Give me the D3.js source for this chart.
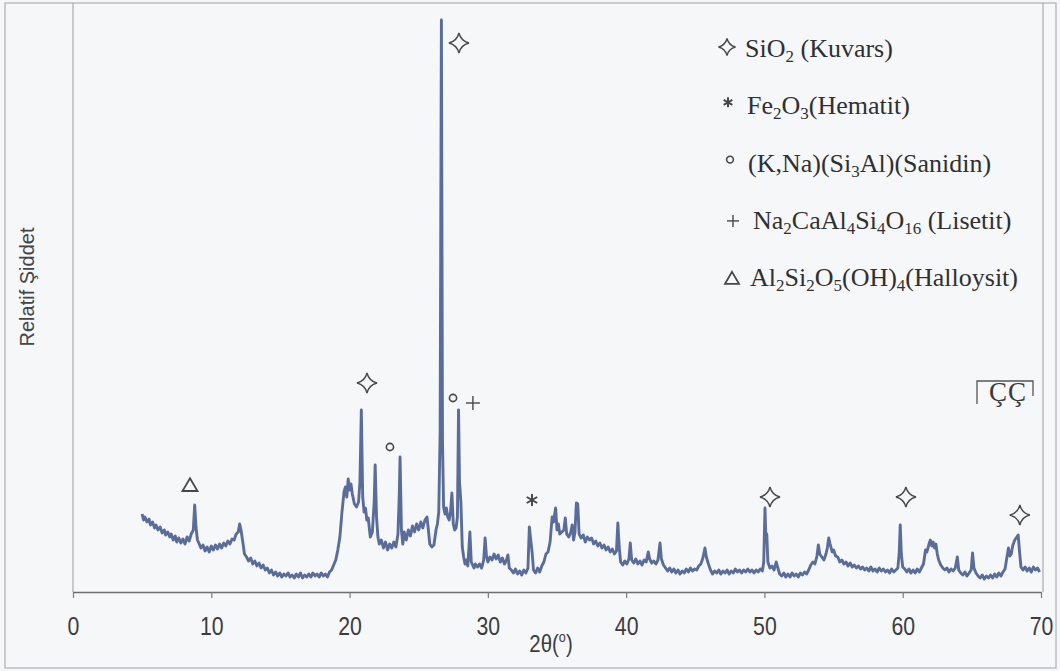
<!DOCTYPE html>
<html>
<head>
<meta charset="utf-8">
<script src="https://cdn.jsdelivr.net/npm/d3@7"></script>
<style>
  html, body { margin: 0; padding: 0; background: #f5f7f9; }
  svg { display: block; }
</style>
</head>
<body>
<svg id="chart" width="1060" height="671"></svg>
<script>
// X-ray diffraction scan: [2θ (degrees), relative intensity]
const pattern = [
  [5.0,78],[5.1,72],[5.2,75],[5.35,70],[5.5,73],[5.6,67],[5.75,70],[5.9,64],[6.0,67],[6.15,62],[6.3,65],[6.45,59],[6.6,62],[6.7,57],[6.85,60],[7.0,55],[7.1,58],[7.25,52],[7.4,56],[7.5,50],[7.65,54],[7.8,49],[7.95,53],[8.1,48],[8.25,55],[8.4,51],[8.55,58],[8.7,62],[8.8,87],[8.9,64],[9.0,52],[9.1,49],
  [9.25,44],[9.4,47],[9.55,41],[9.7,45],[9.85,40],[10.0,46],[10.15,42],[10.3,47],[10.45,43],[10.6,48],[10.75,44],[10.9,49],[11.05,46],[11.2,51],[11.35,48],[11.5,53],[11.65,52],[11.8,58],[11.95,60],[12.05,68],[12.15,62],[12.3,48],[12.4,38],[12.55,35],[12.7,31],[12.85,34],[13.0,28],[13.15,31],[13.3,26],[13.45,29],[13.6,24],[13.75,27],[13.9,22],[14.05,24],[14.2,19],[14.35,22],[14.5,17],[14.65,20],[14.8,16],[14.95,19],[15.1,15],[15.25,18],[15.4,16],[15.55,19],[15.7,15],[15.85,17],[16.0,14],[16.15,18],[16.3,15],[16.45,19],[16.6,14],[16.75,17],[16.9,15],[17.05,18],[17.2,15],[17.35,19],[17.5,16],[17.65,18],[17.8,15],[17.95,19],[18.1,16],[18.25,18],[18.4,15],[18.55,20],[18.7,22],[18.85,27],[19.0,32],[19.15,42],[19.3,55],[19.45,80],[19.6,100],[19.7,105],[19.8,95],[19.9,113],[20.0,102],[20.1,108],[20.2,98],[20.35,88],[20.5,85],[20.65,90],[20.75,110],[20.85,182],[20.95,95],[21.05,80],[21.15,84],[21.25,72],[21.35,74],[21.5,55],[21.65,60],[21.78,90],[21.85,127],[21.95,75],[22.05,55],[22.15,48],[22.3,52],[22.45,44],[22.6,50],[22.75,42],[22.9,48],[23.05,44],[23.2,50],[23.35,45],[23.5,58],[23.6,100],[23.65,135],[23.75,62],[23.85,48],[23.95,60],[24.1,52],[24.25,62],[24.4,56],[24.55,66],[24.7,60],[24.85,68],[25.0,62],[25.15,70],[25.3,64],[25.45,72],[25.6,75],[25.7,62],[25.8,48],[25.95,45],[26.1,47],[26.25,62],[26.35,68],[26.45,80],[26.55,160],[26.64,572],[26.72,150],[26.8,85],[26.9,78],[27.0,84],[27.1,75],[27.2,72],[27.3,80],[27.4,99],[27.5,68],[27.6,62],[27.7,64],[27.8,75],[27.88,182],[27.95,110],[28.05,90],[28.15,45],[28.25,35],[28.35,28],[28.45,32],[28.55,26],[28.7,60],[28.8,30],[28.9,27],[29.0,24],[29.1,28],[29.25,25],[29.4,28],[29.55,24],[29.7,32],[29.8,54],[29.9,36],[30.0,30],[30.15,35],[30.3,32],[30.45,38],[30.6,33],[30.75,37],[30.9,30],[31.05,34],[31.2,28],[31.35,32],[31.45,37],[31.55,24],[31.7,22],[31.85,19],[32.0,23],[32.15,18],[32.3,21],[32.45,17],[32.6,22],[32.75,19],[32.9,24],[33.0,65],[33.1,52],[33.2,40],[33.3,22],[33.45,19],[33.6,24],[33.75,20],[33.9,26],[34.05,30],[34.2,38],[34.35,40],[34.5,50],[34.65,75],[34.75,70],[34.9,84],[35.0,62],[35.1,68],[35.2,58],[35.35,60],[35.5,62],[35.6,74],[35.7,58],[35.85,55],[36.0,60],[36.1,67],[36.2,52],[36.3,60],[36.4,89],[36.5,88],[36.6,58],[36.75,54],[36.9,57],[37.05,50],[37.2,55],[37.35,52],[37.5,54],[37.65,48],[37.8,51],[37.95,46],[38.1,49],[38.25,44],[38.4,47],[38.55,42],[38.7,45],[38.85,40],[39.0,43],[39.15,38],[39.3,41],[39.4,69],[39.5,45],[39.6,30],[39.75,27],[39.9,31],[40.05,28],[40.2,33],[40.3,49],[40.4,32],[40.55,29],[40.7,33],[40.85,28],[41.0,31],[41.15,27],[41.3,32],[41.45,30],[41.6,40],[41.7,33],[41.85,29],[42.0,31],[42.15,28],[42.3,32],[42.45,49],[42.55,33],[42.7,27],[42.85,24],[43.0,21],[43.15,24],[43.3,20],[43.45,23],[43.6,19],[43.75,22],[43.9,18],[44.05,21],[44.2,19],[44.35,23],[44.5,20],[44.65,24],[44.8,21],[44.95,23],[45.1,22],[45.25,26],[45.4,28],[45.55,34],[45.7,44],[45.8,35],[45.95,28],[46.1,22],[46.25,18],[46.4,21],[46.55,19],[46.7,22],[46.85,18],[47.0,21],[47.15,19],[47.3,22],[47.45,18],[47.6,21],[47.75,19],[47.9,23],[48.05,20],[48.2,22],[48.35,19],[48.5,22],[48.65,20],[48.8,23],[48.95,20],[49.1,22],[49.25,19],[49.4,22],[49.55,20],[49.7,23],[49.85,21],[49.95,30],[50.04,84],[50.1,55],[50.17,58],[50.25,30],[50.4,24],[50.55,26],[50.7,22],[50.85,30],[50.95,25],[51.1,18],[51.25,16],[51.4,19],[51.55,15],[51.7,18],[51.85,15],[52.0,19],[52.15,16],[52.3,18],[52.45,15],[52.6,19],[52.75,17],[52.9,20],[53.05,18],[53.2,22],[53.35,27],[53.5,30],[53.65,28],[53.8,36],[53.9,47],[54.0,38],[54.15,35],[54.3,32],[54.45,38],[54.55,44],[54.65,54],[54.75,48],[54.9,40],[55.0,42],[55.15,36],[55.3,35],[55.45,30],[55.6,32],[55.75,28],[55.9,30],[56.05,26],[56.2,29],[56.35,25],[56.5,27],[56.65,24],[56.8,26],[56.95,23],[57.1,25],[57.25,22],[57.4,24],[57.55,21],[57.7,25],[57.85,21],[58.0,23],[58.15,20],[58.3,24],[58.45,21],[58.6,23],[58.75,20],[58.9,22],[59.05,19],[59.2,23],[59.35,20],[59.5,22],[59.65,24],[59.75,40],[59.82,67],[59.9,38],[60.0,25],[60.15,23],[60.3,20],[60.45,23],[60.6,19],[60.75,22],[60.9,19],[61.05,23],[61.2,20],[61.35,24],[61.5,28],[61.65,42],[61.75,40],[61.9,48],[62.0,52],[62.1,46],[62.2,50],[62.3,44],[62.4,48],[62.5,38],[62.6,32],[62.75,27],[62.9,24],[63.05,22],[63.2,24],[63.35,20],[63.5,23],[63.65,21],[63.8,24],[63.95,35],[64.05,22],[64.2,19],[64.35,17],[64.5,20],[64.65,16],[64.8,19],[64.95,22],[65.05,39],[65.15,24],[65.3,19],[65.45,16],[65.6,14],[65.75,17],[65.9,13],[66.05,16],[66.2,14],[66.35,17],[66.5,14],[66.65,18],[66.8,15],[66.95,19],[67.1,16],[67.25,20],[67.4,23],[67.55,36],[67.65,44],[67.75,36],[67.85,38],[67.95,46],[68.1,52],[68.25,55],[68.35,57],[68.45,40],[68.55,25],[68.7,22],[68.85,25],[69.0,21],[69.15,24],[69.3,20],[69.45,25],[69.6,22],[69.75,24],[69.9,20]
];

// Axis ticks
const xTicks = [0, 10, 20, 30, 40, 50, 60, 70];

// Phase identification marks placed above the peaks: [phase, 2θ, level]
const peakMarks = [
  ["halloysite", 8.46, 107],
  ["quartz", 21.26, 209],
  ["sanidine", 22.92, 145],
  ["quartz", 27.91, 549],
  ["sanidine", 27.48, 194],
  ["lisetite", 28.92, 189],
  ["hematite", 33.19, 92],
  ["quartz", 50.4, 95],
  ["quartz", 60.23, 95],
  ["quartz", 68.47, 77]
];

// Legend: phase symbol and formula pieces (second element 1 = subscript)
const legendPhases = ["quartz", "hematite", "sanidine", "lisetite", "halloysite"];
const legendLabels = [
  [["SiO"], ["2", 1], [" (Kuvars)"]],
  [["Fe"], ["2", 1], ["O"], ["3", 1], ["(Hematit)"]],
  [["(K,Na)(Si"], ["3", 1], ["Al)(Sanidin)"]],
  [["Na"], ["2", 1], ["CaAl"], ["4", 1], ["Si"], ["4", 1], ["O"], ["16", 1], [" (Lisetit)"]],
  [["Al"], ["2", 1], ["Si"], ["2", 1], ["O"], ["5", 1], ["(OH)"], ["4", 1], ["(Halloysit)"]]
];

const sampleCode = "ÇÇ";
const yTitle = "Relatif Şiddet";

const svg = d3.select("#chart");
const W = 1060, H = 671;
const plot = { left: 73, right: 1043, top: 3, bottom: 592 };

svg.append("rect").attr("width", W).attr("height", H).attr("fill", "#f5f7f9");

// outer frame
svg.append("rect")
  .attr("x", 5).attr("y", 3).attr("width", 1051).attr("height", 665)
  .attr("fill", "none").attr("stroke", "#b4b6b8").attr("stroke-width", 1.3);

const x = d3.scaleLinear().domain([0, 70]).range([plot.left, 1041]);
const y = d3.scaleLinear().domain([0, 588]).range([plot.bottom, 4]);

// plot area side borders
svg.append("line").attr("x1", plot.left).attr("x2", plot.left)
  .attr("y1", plot.top).attr("y2", plot.bottom)
  .attr("stroke", "#a8aaac").attr("stroke-width", 1.2);
svg.append("line").attr("x1", plot.right).attr("x2", plot.right)
  .attr("y1", plot.top).attr("y2", plot.bottom)
  .attr("stroke", "#a8aaac").attr("stroke-width", 1.2);

// x axis
const xAxis = d3.axisBottom(x).tickValues(xTicks).tickSize(6).tickSizeOuter(0);
const gx = svg.append("g").attr("transform", `translate(0,${plot.bottom})`).call(xAxis);
gx.select(".domain").attr("stroke", "#6c6e70").attr("stroke-width", 1.6);
gx.selectAll(".tick line").attr("stroke", "#7a7c7e").attr("stroke-width", 1.2);
gx.selectAll(".tick text")
  .attr("y", 43).attr("dy", 0)
  .attr("transform", "scale(0.85,1)")
  .attr("fill", "#3c3c3c")
  .style("font-family", "'Liberation Sans', Arial, sans-serif")
  .style("font-size", "25px");

// x axis title: 2θ(°)
const xt = svg.append("text")
  .attr("transform", "translate(551,652) scale(0.85,1)")
  .attr("text-anchor", "middle")
  .attr("fill", "#3c3c3c")
  .style("font-family", "'Liberation Sans', Arial, sans-serif")
  .style("font-size", "24px");
xt.append("tspan").text("2θ(");
xt.append("tspan").text("o").style("font-size", "15px").attr("dy", -10);
xt.append("tspan").text(")").attr("dy", 10);

// y axis title
svg.append("text")
  .attr("transform", "translate(34,287) rotate(-90)")
  .attr("text-anchor", "middle")
  .attr("fill", "#444")
  .style("font-family", "'Liberation Sans', Arial, sans-serif")
  .style("font-size", "20px")
  .text(yTitle);

// diffraction trace
const line = d3.line().x(d => x(d[0])).y(d => y(d[1]));
svg.append("path")
  .datum(pattern)
  .attr("d", line)
  .attr("fill", "none")
  .attr("stroke", "#5a6c9a")
  .attr("stroke-width", 2.9)
  .attr("stroke-linejoin", "round");

// phase symbols
const markColor = "#474747";
function drawSymbol(g, kind, cx, cy, s) {
  const grp = g.append("g").attr("transform", `translate(${cx},${cy})`)
    .attr("fill", "none").attr("stroke", markColor);
  if (kind === "quartz") {
    const r = s, c = s * 0.2;
    grp.append("path")
      .attr("d", `M0,${-r} Q${c},${-c} ${r},0 Q${c},${c} 0,${r} Q${-c},${c} ${-r},0 Q${-c},${-c} 0,${-r}Z`)
      .attr("stroke-width", 1.4).attr("stroke-linejoin", "miter");
  } else if (kind === "hematite") {
    [90, 30, 150].forEach(a => {
      const rad = a * Math.PI / 180;
      grp.append("line")
        .attr("x1", -s * Math.cos(rad)).attr("y1", -s * Math.sin(rad))
        .attr("x2", s * Math.cos(rad)).attr("y2", s * Math.sin(rad))
        .attr("stroke-width", 2);
    });
  } else if (kind === "sanidine") {
    grp.append("circle").attr("r", s).attr("stroke-width", 1.6);
  } else if (kind === "lisetite") {
    grp.append("line").attr("x1", -s).attr("x2", s).attr("stroke-width", 1.4);
    grp.append("line").attr("y1", -s).attr("y2", s).attr("stroke-width", 1.4);
  } else if (kind === "halloysite") {
    grp.append("path")
      .attr("d", `M0,${-s * 0.9} L${s},${s * 0.8} L${-s},${s * 0.8}Z`)
      .attr("stroke-width", 1.8).attr("stroke-linejoin", "miter");
  }
}
const markSize = { quartz: 10, hematite: 6, sanidine: 3.6, lisetite: 7, halloysite: 7.5 };

const marks = svg.append("g");
peakMarks.forEach(([kind, t, lvl]) => drawSymbol(marks, kind, x(t), y(lvl), markSize[kind]));

// legend
const legendSize = { quartz: 8.5, hematite: 5, sanidine: 3.4, lisetite: 6, halloysite: 7 };
const legendSymX = [727, 728, 730, 733, 732];
const legendTextX = [745, 747, 748, 753, 750];
const legendTop = 57, legendStep = 57.3;
const legend = svg.append("g");
legendLabels.forEach((parts, i) => {
  const base = legendTop + i * legendStep;
  const symY = [base - 10, base - 12, base - 12, base - 8, base - 8][i];
  drawSymbol(legend, legendPhases[i], legendSymX[i], symY, legendSize[legendPhases[i]]);
  const t = legend.append("text")
    .attr("x", legendTextX[i]).attr("y", base)
    .attr("fill", "#303030")
    .style("font-family", "'Liberation Serif', 'Times New Roman', serif")
    .style("font-size", "26px");
  let shifted = false;
  parts.forEach(([s, sub]) => {
    const ts = t.append("tspan").text(s);
    if (sub && !shifted) { ts.attr("dy", 5); shifted = true; }
    else if (!sub && shifted) { ts.attr("dy", -5); shifted = false; }
    if (sub) ts.style("font-size", "17px");
  });
});

// sample code box
const codeBox = svg.append("g");
codeBox.append("path")
  .attr("d", "M977,404 L977,381 L1033,381 L1033,396")
  .attr("fill", "none").attr("stroke", "#555").attr("stroke-width", 1.3);
codeBox.append("text")
  .attr("x", 1008).attr("y", 401)
  .attr("text-anchor", "middle")
  .attr("fill", "#3a3a3a")
  .style("font-family", "'Liberation Serif', 'Times New Roman', serif")
  .style("font-size", "27px")
  .style("letter-spacing", "1px")
  .text(sampleCode);
</script>
</body>
</html>
